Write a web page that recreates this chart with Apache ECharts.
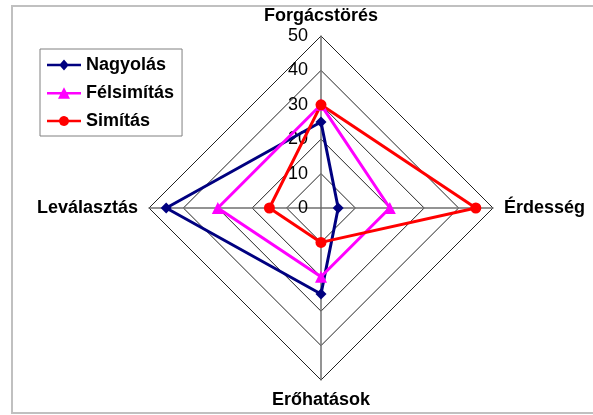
<!DOCTYPE html>
<html>
<head>
<meta charset="utf-8">
<script src="https://cdn.jsdelivr.net/npm/echarts@6/dist/echarts.min.js"></script>
<style>
html,body{margin:0;padding:0;background:#fff;}
#chart{width:593px;height:415px;}
</style>
</head>
<body>
<div id="chart"></div>
<script>
// Indicators in ECharts order (counter-clockwise from top)
const indicators = ['Forgácstörés', 'Leválasztás', 'Erőhatások', 'Érdesség'];
const axisMax = 50;
const seriesNames = ['Nagyolás', 'Félsimítás', 'Simítás'];
// values in indicator order: Forgácstörés, Leválasztás, Erőhatások, Érdesség
const nagyolas = [25, 45, 25, 5];
const felsimitas = [30, 30, 20, 20];
const simitas = [30, 15, 10, 45];
const colors = ['#000080', '#FF00FF', '#FF0000'];
const symbols = ['diamond', 'triangle', 'circle'];

const legendIcons = [
  'path://M0,5.8H13.3L17,1.5L20.7,5.8H34V8.2H20.7L17,12.5L13.3,8.2H0Z',
  'path://M0,5.8H14.5L17,1L19.5,5.8H34V8.2H20.8L23,12.5H11L13.2,8.2H0Z',
  'path://M0,5.8H12.15A5,5 0 0 1 21.85,5.8H34V8.2H21.85A5,5 0 0 1 12.15,8.2H0Z'
];

const values = [nagyolas, felsimitas, simitas];
const symbolSizes = [11, 12, 11];

const chart = echarts.init(document.getElementById('chart'), null, {renderer: 'canvas'});
chart.setOption({
  backgroundColor: '#fff',
  animation: false,
  graphic: [{
    type: 'rect',
    shape: {x: 12, y: 6, width: 620, height: 407},
    style: {fill: 'none', stroke: '#c0c0c0', lineWidth: 2},
    silent: true
  }],
  legend: {
    orient: 'vertical',
    left: 40,
    top: 49,
    padding: [7, 8, 6, 7],
    itemGap: 10,
    itemWidth: 34,
    itemHeight: 14,
    borderColor: '#808080',
    borderWidth: 1,
    textStyle: {fontFamily: 'Liberation Sans, Arial', fontWeight: 'bold', fontSize: 18, color: '#000'},
    data: seriesNames.map((n, i) => ({name: n, icon: legendIcons[i], itemStyle: {color: colors[i]}}))
  },
  radar: {
    center: [321, 208],
    radius: 172,
    startAngle: 90,
    shape: 'polygon',
    splitNumber: 5,
    indicator: indicators.map((name, i) => ({
      name: name, min: 0, max: axisMax,
      axisLabel: {show: i === 0}
    })),
    axisName: {
      color: '#000',
      fontFamily: 'Liberation Sans, Arial',
      fontWeight: 'bold',
      fontSize: 18
    },
    nameGap: 11,
    axisLine: {lineStyle: {color: '#707070', width: 1.5}},
    splitLine: {lineStyle: {color: '#222', width: 1}},
    splitArea: {show: false},
    axisTick: {show: false},
    axisLabel: {
      show: false,
      color: '#000',
      fontFamily: 'Liberation Sans, Arial',
      fontSize: 18,
      margin: 13
    }
  },
  series: [{
    type: 'radar',
    data: seriesNames.map((n, i) => ({
      name: n,
      value: values[i],
      symbol: symbols[i],
      symbolSize: symbolSizes[i],
      lineStyle: {color: colors[i], width: 3},
      itemStyle: {color: colors[i]}
    }))
  }]
});
</script>
</body>
</html>
